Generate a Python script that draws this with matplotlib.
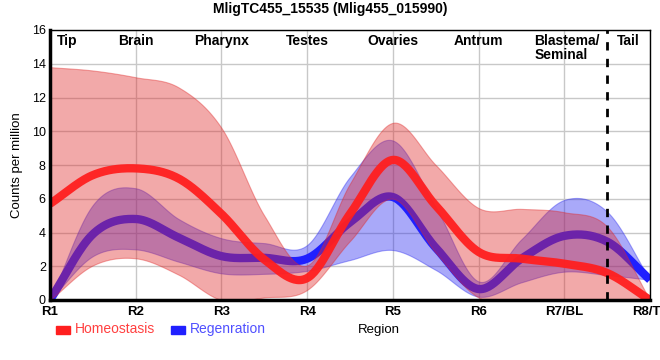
import numpy as np
import matplotlib
matplotlib.use("Agg")
import matplotlib.pyplot as plt

plt.rcParams['font.family'] = ['Liberation Sans', 'DejaVu Sans']

regions = ["R1", "R2", "R3", "R4", "R5", "R6", "R7/BL", "R8/TL"]
tissues = ["Tip", "Brain", "Pharynx", "Testes", "Ovaries", "Antrum", "Blastema/\nSeminal", "Tail"]

# samples every half region (R1, R1.5, R2, ... R8)
pos = np.arange(15) / 2

homeo_mean = [5.7, 7.4, 7.8, 7.2, 5.1, 2.4, 1.3, 5.1, 8.3, 5.6, 2.85, 2.45, 2.15, 1.6, 0.0]
homeo_low = [0.0, 2.05, 2.47, 1.5, 0.0, 0.15, 0.6, 3.5, 6.0, 2.8, 0.15, 0.05, 0.0, 0.0, 0.0]
homeo_high = [13.8, 13.6, 13.2, 12.6, 10.2, 5.0, 2.05, 6.9, 10.5, 8.0, 5.45, 5.4, 5.2, 4.35, 0.0]

regen_mean = [0.0, 3.9, 4.8, 3.7, 2.6, 2.5, 2.45, 4.6, 6.1, 3.1, 0.65, 2.45, 3.8, 3.46, 1.2]
regen_low = [0.0, 2.6, 3.0, 2.27, 1.58, 1.55, 1.73, 2.37, 2.96, 1.78, 0.2, 1.05, 1.68, 1.48, 1.2]
regen_high = [0.0, 5.63, 6.62, 4.8, 3.66, 3.37, 3.26, 7.3, 9.45, 5.5, 1.1, 3.6, 5.93, 5.23, 1.2]


def smooth(x, y, n=30):
    # catmull-rom curve through the points, only for drawing
    x = np.asarray(x, float)
    y = np.asarray(y, float)
    m = np.gradient(y, x)
    xs, ys = [], []
    for i in range(len(y) - 1):
        h = x[i + 1] - x[i]
        t = np.linspace(0, 1, n, endpoint=False)
        h00 = 2 * t**3 - 3 * t**2 + 1
        h10 = t**3 - 2 * t**2 + t
        h01 = -2 * t**3 + 3 * t**2
        h11 = t**3 - t**2
        xs.append(x[i] + t * h)
        ys.append(h00 * y[i] + h10 * h * m[i] + h01 * y[i + 1] + h11 * h * m[i + 1])
    xs.append([x[-1]])
    ys.append([y[-1]])
    return np.concatenate(xs), np.clip(np.concatenate(ys), 0, None)


fig = plt.figure(figsize=(6.6, 3.6), dpi=100)
ax = fig.add_axes([50 / 660, 60 / 360, 600 / 660, 270 / 360])

red = "#ff1f1f"
blue = "#2020ff"

# regeneration first, homeostasis band drawn over it
x, lo = smooth(pos, regen_low)
_, hi = smooth(pos, regen_high)
ax.fill_between(x, lo, hi, color="#2a2af0", alpha=0.4, lw=0.8, zorder=2)
x, y = smooth(pos, regen_mean)
ax.plot(x, y, color=blue, lw=6, solid_capstyle='butt', zorder=3)

x, lo = smooth(pos, homeo_low)
_, hi = smooth(pos, homeo_high)
ax.fill_between(x, lo, hi, color="#e02828", alpha=0.4, lw=0.8, zorder=4)
x, y = smooth(pos, homeo_mean)
ax.plot(x, y, color=red, lw=6, alpha=0.95, solid_capstyle='butt', zorder=5)

ax.axvline(6.5, color="black", lw=2, ls=(0, (3, 3)), zorder=6)

ax.set_xlim(0, 7)
ax.set_ylim(0, 16)
ax.set_xticks(range(len(regions)))
ax.set_xticklabels(regions, fontweight="bold", fontsize=9.5)
ax.set_yticks(range(0, 17, 2))
ax.tick_params(axis="y", labelsize=9, length=0, pad=3)
ax.tick_params(axis="x", length=0, pad=4)
ax.grid(color="#c8c8c8", lw=1, zorder=0)
ax.set_axisbelow(True)
for s in ["top", "right"]:
    ax.spines[s].set_linewidth(1)
ax.spines["left"].set_linewidth(2.5)
ax.spines["bottom"].set_linewidth(2.5)
for s in ax.spines.values():
    s.set_zorder(8)

for i, name in enumerate(tissues):
    if i == 0:
        ax.text(0.08, 15.75, name, ha="left", va="top", fontweight="bold", fontsize=10)
    elif i == 7:
        ax.text(6.75, 15.75, name, ha="center", va="top", fontweight="bold", fontsize=10)
    elif i == 6:
        ax.text(5.65, 15.75, name, ha="left", va="top", fontweight="bold", fontsize=10,
                linespacing=1.0)
    else:
        ax.text(i, 15.75, name, ha="center", va="top", fontweight="bold", fontsize=10)

ax.set_ylabel("Counts per million", fontsize=9.5, labelpad=6)
fig.text(358 / 660, 1 - 330 / 360, "Region", ha="left", va="center", fontsize=9.5)
fig.suptitle("MligTC455_15535 (Mlig455_015990)", fontweight="bold", fontsize=10, y=0.995)

# legend
fig.patches.append(plt.Rectangle((56 / 660, 1 - 334 / 360), 14 / 660, 8 / 360,
                                 color=red, transform=fig.transFigure))
fig.text(75 / 660, 1 - 329 / 360, "Homeostasis", color="#ff4040", fontsize=10, va="center")
fig.patches.append(plt.Rectangle((171 / 660, 1 - 334 / 360), 14 / 660, 8 / 360,
                                 color=blue, transform=fig.transFigure))
fig.text(190 / 660, 1 - 329 / 360, "Regenration", color="#5050ff", fontsize=10, va="center")

fig.savefig("out.png", dpi=100)
